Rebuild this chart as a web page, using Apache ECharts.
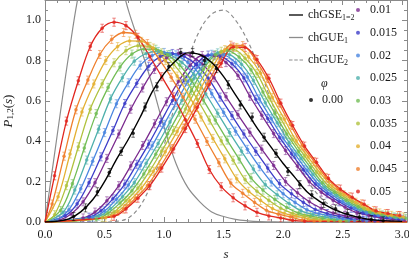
<!DOCTYPE html>
<html><head><meta charset="utf-8">
<script src="https://cdn.jsdelivr.net/npm/echarts@6/dist/echarts.min.js"></script>
<style>html,body{margin:0;padding:0;background:#fff}#c{width:409px;height:265px}</style>
</head><body><div id="c"></div>
<script>
// ---------- tick / legend labels ----------
const phiLabels = ['0.01','0.015','0.02','0.025','0.03','0.035','0.04','0.045','0.05'];
const phiColors = ['#7b2a8e','#3c3cc8','#4a86e0','#4fb0ac','#72bd55','#b0c23e','#e3b032','#ef7f2d','#e1261f'];

// ---------- theory curves on a common s grid ----------
const sTheory = [0,0.1,0.2,0.3,0.4,0.5,0.6,0.7,0.8,0.9,1.0,1.1,1.2,1.3,1.4,1.5,1.6,1.7,1.8,1.9,2.0,2.1,2.2,2.3,2.4,2.5,2.6,2.7,2.8,2.9,3.0];
const chGSE  = [0,0.004,0.015,0.05,0.11,0.20,0.31,0.41,0.52,0.645,0.735,0.80,0.838,0.83,0.79,0.72,0.63,0.54,0.45,0.37,0.29,0.22,0.15,0.105,0.07,0.045,0.028,0.015,0.008,0.005,0.003];
const chGUE1 = [0,0.42,0.83,1.18,1.36,1.40,1.26,1.05,0.87,0.68,0.47,0.29,0.17,0.10,0.05,0.027,0.013,0.006,0.002,0.001,0,0,0,0,0,0,0,0,0,0,0];
const chGUE2 = [0,0,0,0,0,0,0.003,0.02,0.08,0.2,0.38,0.6,0.8,0.95,1.03,1.05,1.0,0.9,0.76,0.6,0.45,0.32,0.21,0.13,0.08,0.045,0.024,0.012,0.006,0.003,0.001];

// ---------- phi = 0 data ----------
const data000 = [[0.24,0.027],[0.34,0.07],[0.44,0.15],[0.54,0.245],[0.64,0.35],[0.74,0.44],[0.84,0.57],[0.94,0.67],[1.04,0.77],[1.14,0.84],[1.24,0.84],[1.34,0.80],[1.44,0.76],[1.54,0.68],[1.64,0.58],[1.74,0.52],[1.84,0.42],[1.94,0.34],[2.04,0.25],[2.14,0.185],[2.24,0.135],[2.34,0.092],[2.44,0.065],[2.54,0.042],[2.64,0.024],[2.74,0.012],[2.84,0.006]];

// ---------- P1 (first spacing) per phi ----------
const p1_010 = [[0.12,0.009],[0.22,0.04],[0.32,0.10],[0.42,0.195],[0.52,0.315],[0.62,0.436],[0.72,0.559],[0.82,0.664],[0.92,0.756],[1.02,0.813],[1.12,0.835],[1.22,0.823],[1.32,0.783],[1.42,0.715],[1.52,0.621],[1.62,0.532],[1.72,0.445],[1.82,0.361],[1.92,0.28],[2.02,0.2],[2.12,0.145],[2.22,0.10],[2.32,0.068],[2.42,0.044],[2.52,0.03],[2.62,0.019],[2.72,0.009],[2.82,0.006]];
const p1_015 = [[0.17,0.031],[0.27,0.09],[0.37,0.195],[0.47,0.323],[0.57,0.453],[0.67,0.587],[0.77,0.687],[0.87,0.772],[0.97,0.821],[1.07,0.835],[1.17,0.82],[1.27,0.78],[1.37,0.713],[1.47,0.619],[1.57,0.527],[1.67,0.436],[1.77,0.35],[1.87,0.267],[1.97,0.19],[2.07,0.14],[2.17,0.097],[2.27,0.062],[2.37,0.042],[2.47,0.028],[2.57,0.015],[2.67,0.008],[2.77,0.005]];
const p1_020 = [[0.1,0.011],[0.2,0.06],[0.3,0.165],[0.4,0.301],[0.5,0.443],[0.6,0.586],[0.7,0.69],[0.8,0.777],[0.9,0.825],[1.0,0.84],[1.1,0.828],[1.2,0.79],[1.3,0.731],[1.4,0.636],[1.5,0.543],[1.6,0.45],[1.7,0.36],[1.8,0.274],[1.9,0.198],[2.0,0.14],[2.1,0.097],[2.2,0.06],[2.3,0.041],[2.4,0.028],[2.5,0.015],[2.6,0.008],[2.7,0.005]];
const p1_025 = [[0.15,0.047],[0.25,0.158],[0.35,0.307],[0.45,0.46],[0.55,0.61],[0.65,0.715],[0.75,0.797],[0.85,0.835],[0.95,0.845],[1.05,0.83],[1.15,0.79],[1.25,0.731],[1.35,0.635],[1.45,0.539],[1.55,0.443],[1.65,0.351],[1.75,0.262],[1.85,0.185],[1.95,0.135],[2.05,0.092],[2.15,0.055],[2.25,0.037],[2.35,0.025],[2.45,0.012],[2.55,0.006]];
const p1_030 = [[0.13,0.057],[0.23,0.19],[0.33,0.367],[0.43,0.537],[0.53,0.667],[0.63,0.768],[0.73,0.832],[0.83,0.857],[0.93,0.856],[1.03,0.828],[1.13,0.778],[1.23,0.701],[1.33,0.604],[1.43,0.505],[1.53,0.406],[1.63,0.312],[1.73,0.219],[1.83,0.158],[1.93,0.112],[2.03,0.072],[2.13,0.044],[2.23,0.03],[2.33,0.018],[2.43,0.009],[2.53,0.005]];
const p1_035 = [[0.08,0.036],[0.18,0.18],[0.28,0.373],[0.38,0.559],[0.48,0.685],[0.58,0.789],[0.68,0.849],[0.78,0.873],[0.88,0.87],[0.98,0.838],[1.08,0.782],[1.18,0.705],[1.28,0.607],[1.38,0.505],[1.48,0.402],[1.58,0.306],[1.68,0.21],[1.78,0.152],[1.88,0.107],[1.98,0.068],[2.08,0.043],[2.18,0.029],[2.28,0.016],[2.38,0.008],[2.48,0.004]];
const p1_040 = [[0.11,0.125],[0.21,0.337],[0.31,0.545],[0.41,0.684],[0.51,0.80],[0.61,0.869],[0.71,0.897],[0.81,0.895],[0.91,0.862],[1.01,0.80],[1.11,0.723],[1.21,0.625],[1.31,0.52],[1.41,0.414],[1.51,0.313],[1.61,0.214],[1.71,0.152],[1.81,0.107],[1.91,0.067],[2.01,0.043],[2.11,0.029],[2.21,0.015],[2.31,0.007]];
const p1_045 = [[0.06,0.089],[0.16,0.326],[0.26,0.556],[0.36,0.703],[0.46,0.83],[0.56,0.905],[0.66,0.939],[0.76,0.93],[0.86,0.884],[0.96,0.806],[1.06,0.717],[1.16,0.618],[1.26,0.509],[1.36,0.399],[1.46,0.294],[1.56,0.193],[1.66,0.142],[1.76,0.097],[1.86,0.058],[1.96,0.039],[2.06,0.025],[2.16,0.01],[2.26,0.005]];
const p1_050 = [[0.08,0.229],[0.18,0.50],[0.28,0.70],[0.38,0.87],[0.48,0.96],[0.58,0.99],[0.68,0.973],[0.78,0.915],[0.88,0.82],[0.98,0.72],[1.08,0.62],[1.18,0.506],[1.28,0.389],[1.38,0.26],[1.48,0.175],[1.58,0.12],[1.68,0.08],[1.78,0.048],[1.88,0.03],[1.98,0.02],[2.08,0.008],[2.18,0.004]];

// ---------- P2 (second spacing) per phi ----------
const p2_010 = [[0.32,0.02],[0.42,0.049],[0.52,0.105],[0.62,0.18],[0.72,0.278],[0.82,0.379],[0.92,0.487],[1.02,0.596],[1.12,0.696],[1.22,0.777],[1.32,0.825],[1.42,0.824],[1.52,0.79],[1.62,0.726],[1.72,0.623],[1.82,0.529],[1.92,0.438],[2.02,0.354],[2.12,0.276],[2.22,0.2],[2.32,0.148],[2.42,0.107],[2.52,0.073],[2.62,0.046],[2.72,0.032],[2.82,0.021],[2.92,0.013],[3.02,0.009]];
const p2_015 = [[0.37,0.024],[0.47,0.056],[0.57,0.115],[0.67,0.188],[0.77,0.286],[0.87,0.386],[0.97,0.494],[1.07,0.602],[1.17,0.704],[1.27,0.782],[1.37,0.827],[1.47,0.822],[1.57,0.784],[1.67,0.714],[1.77,0.608],[1.87,0.513],[1.97,0.419],[2.07,0.338],[2.17,0.259],[2.27,0.188],[2.37,0.14],[2.47,0.10],[2.57,0.068],[2.67,0.044],[2.77,0.031],[2.87,0.021],[2.97,0.013]];
const p2_020 = [[0.4,0.024],[0.5,0.055],[0.6,0.113],[0.7,0.183],[0.8,0.279],[0.9,0.378],[1.0,0.484],[1.1,0.591],[1.2,0.696],[1.3,0.78],[1.4,0.831],[1.5,0.828],[1.6,0.789],[1.7,0.718],[1.8,0.61],[1.9,0.512],[2.0,0.416],[2.1,0.335],[2.2,0.256],[2.3,0.186],[2.4,0.139],[2.5,0.10],[2.6,0.068],[2.7,0.045],[2.8,0.032],[2.9,0.022],[3.0,0.014]];
const p2_025 = [[0.45,0.029],[0.55,0.066],[0.65,0.125],[0.75,0.195],[0.85,0.291],[0.95,0.389],[1.05,0.496],[1.15,0.603],[1.25,0.71],[1.35,0.79],[1.45,0.838],[1.55,0.829],[1.65,0.782],[1.75,0.701],[1.85,0.591],[1.95,0.492],[2.05,0.394],[2.15,0.315],[2.25,0.236],[2.35,0.172],[2.45,0.13],[2.55,0.092],[2.65,0.06],[2.75,0.042],[2.85,0.03],[2.95,0.021]];
const p2_030 = [[0.43,0.014],[0.53,0.044],[0.63,0.094],[0.73,0.155],[0.83,0.238],[0.93,0.336],[1.03,0.437],[1.13,0.544],[1.23,0.652],[1.33,0.756],[1.43,0.829],[1.53,0.849],[1.63,0.817],[1.73,0.754],[1.83,0.644],[1.93,0.538],[2.03,0.436],[2.13,0.349],[2.23,0.27],[2.33,0.194],[2.43,0.148],[2.53,0.108],[2.63,0.075],[2.73,0.048],[2.83,0.035],[2.93,0.025],[3.03,0.018]];
const p2_035 = [[0.48,0.021],[0.58,0.05],[0.68,0.105],[0.78,0.168],[0.88,0.254],[0.98,0.351],[1.08,0.453],[1.18,0.56],[1.28,0.668],[1.38,0.77],[1.48,0.846],[1.58,0.855],[1.68,0.811],[1.78,0.736],[1.88,0.619],[1.98,0.513],[2.08,0.409],[2.18,0.328],[2.28,0.248],[2.38,0.18],[2.48,0.137],[2.58,0.10],[2.68,0.067],[2.78,0.045],[2.88,0.033],[2.98,0.024]];
const p2_040 = [[0.51,0.021],[0.61,0.052],[0.71,0.105],[0.81,0.168],[0.91,0.251],[1.01,0.348],[1.11,0.449],[1.21,0.554],[1.31,0.664],[1.41,0.77],[1.51,0.854],[1.61,0.865],[1.71,0.818],[1.81,0.737],[1.91,0.617],[2.01,0.509],[2.11,0.402],[2.21,0.322],[2.31,0.243],[2.41,0.178],[2.51,0.135],[2.61,0.098],[2.71,0.065],[2.81,0.045],[2.91,0.033],[3.01,0.025]];
const p2_045 = [[0.56,0.028],[0.66,0.064],[0.76,0.118],[0.86,0.18],[0.96,0.267],[1.06,0.363],[1.16,0.465],[1.26,0.57],[1.36,0.682],[1.46,0.789],[1.56,0.876],[1.66,0.874],[1.76,0.81],[1.86,0.713],[1.96,0.592],[2.06,0.483],[2.16,0.38],[2.26,0.30],[2.36,0.221],[2.46,0.165],[2.56,0.125],[2.66,0.09],[2.76,0.057],[2.86,0.042],[2.96,0.032]];
const p2_050 = [[0.58,0.028],[0.68,0.065],[0.78,0.118],[0.88,0.18],[0.98,0.267],[1.08,0.362],[1.18,0.463],[1.28,0.568],[1.38,0.681],[1.48,0.786],[1.58,0.867],[1.68,0.865],[1.78,0.805],[1.88,0.712],[1.98,0.589],[2.08,0.478],[2.18,0.376],[2.28,0.296],[2.38,0.216],[2.48,0.163],[2.58,0.123],[2.68,0.088],[2.78,0.055],[2.88,0.042],[2.98,0.032]];

const P1 = [p1_010,p1_015,p1_020,p1_025,p1_030,p1_035,p1_040,p1_045,p1_050];
const P2 = [p2_010,p2_015,p2_020,p2_025,p2_030,p2_035,p2_040,p2_045,p2_050];

// ---------- chart ----------
const FONT = '"Liberation Serif", "DejaVu Serif", serif';
const FRAME = '#8a8a8a';
const TXT = '#1a1a1a';
const ERR = 0.02;

function pairs(xs, ys){ return xs.map((x,i)=>[x, ys[i]]); }
function fmtMult(step){ return v => (Math.abs(v/step - Math.round(v/step)) < 1e-6) ? v.toFixed(1) : ''; }
function errBar(color){
  return function(params, api){
    const s = api.value(0), v = api.value(1);
    const a = api.coord([s, v + ERR]), b = api.coord([s, v - ERR]);
    const st = {stroke: color, lineWidth: 0.9, opacity: 0.6};
    return {type:'group', children:[
      {type:'line', shape:{x1:a[0],y1:a[1],x2:b[0],y2:b[1]}, style:st},
      {type:'line', shape:{x1:a[0]-1.8,y1:a[1],x2:a[0]+1.8,y2:a[1]}, style:st},
      {type:'line', shape:{x1:b[0]-1.8,y1:b[1],x2:b[0]+1.8,y2:b[1]}, style:st}
    ]};
  };
}

const series = [];
series.push({type:'line', name:'chGUE1', data:pairs(sTheory, chGUE1), smooth:0.35, symbol:'none', clip:true, z:1,
  lineStyle:{color:'#8c8c8c', width:1.2}, itemStyle:{color:'#8c8c8c'}});
series.push({type:'line', name:'chGUE2', data:pairs(sTheory, chGUE2), smooth:0.35, symbol:'none', clip:true, z:1,
  lineStyle:{color:'#8c8c8c', width:1.2, type:[4,3]}, itemStyle:{color:'#8c8c8c'}});

phiLabels.forEach((lab, i) => {
  const c = phiColors[i];
  series.push({type:'line', name:lab+' P1', data:[[0,0]].concat(P1[i], [[3.04,0.001]]), smooth:0.35, symbol:'none', clip:true, z:3,
    lineStyle:{color:c, width:1.3}});
  series.push({type:'line', name:lab+' P2', data:[[0,0]].concat(P2[i]), smooth:0.35, symbol:'none', clip:true, z:3,
    lineStyle:{color:c, width:1.3}});
  const pts = P1[i].concat(P2[i]);
  series.push({type:'custom', name:lab+' err', data:pts, renderItem:errBar(c), encode:{x:0,y:1}, clip:true, z:2, silent:true});
  series.push({type:'scatter', name:lab, data:pts, symbol:'circle', symbolSize:3.6, itemStyle:{color:c}, clip:true, z:4});
});

series.push({type:'line', name:'chGSE', data:pairs(sTheory, chGSE), smooth:0.35, symbol:'none', clip:true, z:5,
  lineStyle:{color:'#000', width:1.4}, itemStyle:{color:'#000'}});
series.push({type:'custom', name:'0.00 err', data:data000, renderItem:errBar('#000'), encode:{x:0,y:1}, clip:true, z:5, silent:true});
series.push({type:'scatter', name:'0.00', data:data000, symbol:'circle', symbolSize:3.6, itemStyle:{color:'#000'}, clip:true, z:6});

function xAx(pos, interval, len, labels, line){
  return {type:'value', position:pos, min:0, max:3.04, interval:interval,
    axisLine:{show:line, onZero:false, lineStyle:{color:FRAME, width:1}},
    axisTick:{show:true, inside:true, length:len, lineStyle:{color:FRAME, width:1}},
    axisLabel:labels ? {show:true, formatter:fmtMult(0.5), margin:7, fontFamily:FONT, fontSize:12, color:TXT} : {show:false},
    splitLine:{show:false}, minorTick:{show:false}};
}
function yAx(pos, interval, len, labels, line){
  return {type:'value', position:pos, min:0, max:1.1, interval:interval,
    axisLine:{show:line, onZero:false, lineStyle:{color:FRAME, width:1}},
    axisTick:{show:true, inside:true, length:len, lineStyle:{color:FRAME, width:1}},
    axisLabel:labels ? {show:true, formatter:fmtMult(0.2), margin:4, fontFamily:FONT, fontSize:12, color:TXT} : {show:false},
    splitLine:{show:false}, minorTick:{show:false}};
}
const xMain = xAx('bottom', 0.5, 5, true, true);
xMain.name = 's'; xMain.nameLocation = 'middle'; xMain.nameGap = 26;
xMain.nameTextStyle = {fontFamily:FONT, fontStyle:'italic', fontSize:13, color:TXT};
const yMain = yAx('left', 0.2, 5, true, true);
yMain.name = '{i|P}{s|1,2}{n|(}{i|s}{n|)}'; yMain.nameLocation = 'middle'; yMain.nameGap = 28; yMain.nameRotate = 90;
yMain.nameTextStyle = {rich:{
  i:{fontFamily:FONT, fontStyle:'italic', fontSize:13, color:TXT},
  n:{fontFamily:FONT, fontSize:13, color:TXT},
  s:{fontFamily:FONT, fontSize:9, color:TXT, verticalAlign:'bottom', lineHeight:10}
}};

const legendText = {fontFamily:FONT, fontSize:12, color:TXT, lineHeight:14,
  rich:{s:{fontFamily:FONT, fontSize:8, color:TXT, verticalAlign:'bottom', lineHeight:9}}};
const lineNames = {chGSE:'chGSE{s|1=2}', chGUE1:'chGUE{s|1}', chGUE2:'chGUE{s|2}'};
const dashIcon = 'path://M0,0H4V1.2H0Z M6,0H10V1.2H6Z M12,0H16V1.2H12Z';

const option = {
  animation:false,
  backgroundColor:'#fff',
  grid:{left:45, right:2, top:0, bottom:43, containLabel:false, outerBoundsMode:'none'},
  xAxis:[xMain, xAx('bottom', 0.1, 3, false, false), xAx('top', 0.5, 5, false, true), xAx('top', 0.1, 3, false, false)],
  yAxis:[yMain, yAx('left', 0.05, 3, false, false), yAx('right', 0.2, 5, false, true), yAx('right', 0.05, 3, false, false)],
  legend:[
    {data:[{name:'chGSE', icon:'rect'},{name:'chGUE1', icon:'rect'},{name:'chGUE2', icon:dashIcon}],
     orient:'vertical', left:289, top:8, padding:0, itemWidth:14, itemHeight:1.3, itemGap:8.5,
     selectedMode:false, formatter:n => lineNames[n], textStyle:legendText},
    {data:phiLabels, orient:'vertical', left:356, top:3, padding:0, itemWidth:14, itemHeight:4, itemGap:8.7,
     icon:'circle', selectedMode:false, textStyle:{fontFamily:FONT, fontSize:12, color:TXT, lineHeight:14}},
    {data:['0.00'], orient:'vertical', left:309, top:93, padding:0, itemWidth:12, itemHeight:4,
     icon:'circle', selectedMode:false, textStyle:{fontFamily:FONT, fontSize:12, color:TXT, lineHeight:14}}
  ],
  graphic:[{type:'text', left:321, top:78, style:{text:'φ', font:'italic 12px "Liberation Serif"', fill:TXT}}],
  series: series
};
const chart = echarts.init(document.getElementById('c'), null, {renderer:'canvas'});
chart.setOption(option);
</script>
</body></html>
